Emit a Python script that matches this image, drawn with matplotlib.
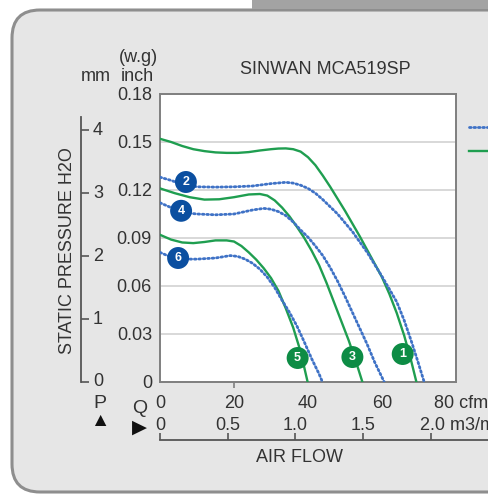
import matplotlib
matplotlib.use("Agg")
import matplotlib.pyplot as plt
from matplotlib.patches import FancyBboxPatch, Rectangle
from matplotlib.transforms import blended_transform_factory, offset_copy

plt.rcParams['font.family'] = ['Liberation Sans', 'DejaVu Sans']

# ---------------- data ----------------
TITLE = "SINWAN MCA519SP"
CFM_TICKS = [0, 20, 40, 60, 80]
CFM_LABELS = ["0", "20", "40", "60", "80 cfm"]
INCH_TICKS = [0, 0.03, 0.06, 0.09, 0.12, 0.15, 0.18]
INCH_LABELS = ["0", "0.03", "0.06", "0.09", "0.12", "0.15", "0.18"]
MM_TICKS = [0, 1, 2, 3, 4]
M3_TICKS = [0, 0.5, 1.0, 1.5, 2.0]
M3_LABELS = ["0", "0.5", "1.0", "1.5", "2.0 m3/min"]
INCH_PER_MM = 0.03937
CFM_PER_M3 = 36.6   # as drawn on the chart

c1_x = [0, 3, 6, 9, 12, 15, 18, 21, 24, 27, 30, 32, 34, 36, 38, 40, 42, 44, 46, 48,
        50, 52, 54, 56, 58, 60, 62, 64, 66, 67.8, 69.3]
c1_y = [0.152, 0.150, 0.1475, 0.1455, 0.1443, 0.1435, 0.1432, 0.1432, 0.1437, 0.1447, 0.1455,
        0.1459, 0.146, 0.1455, 0.144, 0.1405, 0.1355, 0.129, 0.122, 0.1145,
        0.107, 0.099, 0.091, 0.0825, 0.074, 0.0655, 0.055, 0.043, 0.029, 0.014, 0.0]
c2_x = [0, 3, 6, 10, 15, 20, 25, 30, 34, 36, 38, 40, 42, 44, 46, 48,
        50, 52, 54, 56, 58, 60, 62, 64, 66, 68, 69.8, 71.4]
c2_y = [0.128, 0.126, 0.1235, 0.122, 0.1218, 0.122, 0.1225, 0.124, 0.1248, 0.1243, 0.123,
        0.121, 0.118, 0.114, 0.1095, 0.105,
        0.0995, 0.094, 0.0875, 0.081, 0.0735, 0.066, 0.058, 0.050, 0.0385, 0.025, 0.012, 0.0]
c3_x = [0, 4, 8, 12, 16, 20, 24, 27, 29, 31, 33, 35, 37, 39, 41, 43, 45, 47, 49, 51, 53, 54.7]
c3_y = [0.121, 0.118, 0.1155, 0.114, 0.1142, 0.1155, 0.1172, 0.1175, 0.1165, 0.1135, 0.109,
        0.1035, 0.097, 0.090, 0.082, 0.073, 0.062, 0.050, 0.038, 0.026, 0.0125, 0.0]
c4_x = [0, 3, 6, 10, 15, 20, 25, 28, 30, 32, 34, 36, 38, 40, 42, 44, 46, 48, 50, 52,
        54, 56, 58, 60.6]
c4_y = [0.112, 0.109, 0.106, 0.105, 0.1045, 0.105, 0.1075, 0.1085, 0.108, 0.1065, 0.104,
        0.100, 0.095, 0.0905, 0.085, 0.079, 0.0715, 0.063, 0.0535, 0.0435,
        0.0335, 0.0235, 0.0125, 0.0]
c5_x = [0, 3, 6, 9, 12, 15, 18, 20, 22, 24, 26, 28, 30, 32, 34, 36, 38, 39.9]
c5_y = [0.092, 0.089, 0.0872, 0.0868, 0.0875, 0.0885, 0.0885, 0.0878, 0.085, 0.081, 0.0765,
        0.0712, 0.065, 0.057, 0.046, 0.034, 0.019, 0.0]
c6_x = [0, 3, 6, 10, 15, 19, 21, 23, 25, 27, 29, 31, 33, 35, 37, 39, 41, 43, 43.9]
c6_y = [0.081, 0.078, 0.0768, 0.0768, 0.0775, 0.079, 0.0785, 0.0768, 0.0742, 0.0705, 0.0655,
        0.059, 0.051, 0.0435, 0.035, 0.025, 0.0145, 0.005, 0.0]

CURVES = [(1, c1_x, c1_y), (2, c2_x, c2_y), (3, c3_x, c3_y),
          (4, c4_x, c4_y), (5, c5_x, c5_y), (6, c6_x, c6_y)]
LABEL_POS = {1: (65.6, 0.0175), 2: (7.0, 0.125), 3: (52.0, 0.0156),
             4: (5.7, 0.107), 5: (37.2, 0.015), 6: (4.9, 0.0775)}

# ---------------- styles ----------------
GREEN = '#1f9e50'
GREEN_DOT = '#0d8c45'
BLUE = '#3f72c6'
BLUE_DOT = '#0b4fa0'
TXT = '#333333'
FS = 13

W, H = 489, 495
fig = plt.figure(figsize=(W / 100, H / 100), dpi=100, facecolor='white')

# background canvas in pixel units
bg = fig.add_axes([0, 0, 1, 1])
bg.set_xlim(0, W)
bg.set_ylim(H, 0)
bg.axis('off')
bg.add_patch(FancyBboxPatch((12, 10), 700, 482,
                            boxstyle="round,pad=0,rounding_size=28",
                            fc='#e6e6e6', ec='#8e8e8e', lw=2.2))
bg.add_patch(Rectangle((252, -2), 260, 11, fc='#a3a3a3', ec='none'))

# main plot
L, R, T, B = 160, 456, 94, 382
ax = fig.add_axes([L / W, 1 - B / H, (R - L) / W, (B - T) / H])
ax.set_facecolor('white')
ax.set_xlim(0, 80)
ax.set_ylim(0, 0.18)
for s in ax.spines.values():
    s.set_color('#7f7f7f')
    s.set_linewidth(1.4)
ax.set_yticks(INCH_TICKS)
ax.set_yticklabels(INCH_LABELS, fontsize=FS, color=TXT)
ax.tick_params(axis='y', length=0, pad=5.8)
ax.grid(axis='y', color='#d2d2d2', lw=1.2)
ax.set_axisbelow(True)
ax.set_xticks([20])
ax.set_xticklabels([])
ax.tick_params(axis='x', length=4, color='#7f7f7f', width=1.2)

for num, xs, ys in CURVES:
    if num % 2 == 1:
        ax.plot(xs, ys, color=GREEN, lw=1.7, solid_joinstyle='round', zorder=3)
    else:
        ax.plot(xs, ys, color=BLUE, lw=2.0, linestyle=(0, (0.6, 1.0)),
                dash_capstyle='round', zorder=3)
for num, (lx, ly) in LABEL_POS.items():
    col = GREEN_DOT if num % 2 == 1 else BLUE_DOT
    ax.scatter([lx], [ly], s=250, color=col, edgecolors='none', zorder=5, clip_on=False)
    ax.text(lx, ly, str(num), color='white', fontsize=9, fontweight='bold',
            ha='center', va='center', zorder=6)

# x labels (two rows)
tr_x = blended_transform_factory(ax.transData, bg.transData)
for v, lab in zip(CFM_TICKS, CFM_LABELS):
    if lab.endswith('cfm'):
        ax_t = offset_copy(tr_x, fig=fig, x=-22, y=0, units='dots')
        bg.text(v, 408, lab, transform=ax_t, ha='left', va='baseline', fontsize=FS, color=TXT)
    else:
        bg.text(v, 408, lab, transform=tr_x, ha='center', va='baseline', fontsize=FS, color=TXT)
for v, lab in zip(M3_TICKS, M3_LABELS):
    xv = v * CFM_PER_M3
    if 'm3' in lab:
        ax_t = offset_copy(tr_x, fig=fig, x=-11, y=0, units='dots')
        bg.text(xv, 430, lab, transform=ax_t, ha='left', va='baseline', fontsize=FS, color=TXT)
    else:
        bg.text(xv, 430, lab, transform=tr_x, ha='center', va='baseline', fontsize=FS, color=TXT)

# Q axis line under the labels
axq = fig.add_axes([L / W, 1 - 440 / H, (W - L) / W, 1 / H])
axq.set_xlim(0, 80 * (W - L) / (R - L))
axq.patch.set_visible(False)
for k in ['top', 'left', 'right']:
    axq.spines[k].set_visible(False)
axq.spines['bottom'].set_color('#555555')
axq.spines['bottom'].set_linewidth(1.3)
axq.set_yticks([])
axq.set_xticks([m * CFM_PER_M3 for m in M3_TICKS])
axq.set_xticklabels([])
axq.tick_params(axis='x', direction='in', length=5, color='#555555', width=1.2)

# mm axis
axmm = fig.add_axes([81 / W, 1 - B / H, 1 / W, (B - T) / H])
axmm.set_ylim(0, 0.18 / INCH_PER_MM)
axmm.patch.set_visible(False)
for k in ['top', 'bottom', 'right']:
    axmm.spines[k].set_visible(False)
axmm.spines['left'].set_color('#555555')
axmm.spines['left'].set_linewidth(1.3)
axmm.spines['left'].set_bounds(0, 4.2)
axmm.set_xticks([])
axmm.set_yticks(MM_TICKS)
axmm.set_yticklabels([])
axmm.tick_params(axis='y', direction='in', length=6, color='#555555', width=1.2)
tr_mm = blended_transform_factory(bg.transData, axmm.transData)
for v in MM_TICKS:
    bg.text(98, v, str(v), transform=tr_mm, ha='center', va='center', fontsize=FS, color=TXT)

# other texts
bg.text(325, 74, TITLE, ha='center', va='baseline', fontsize=FS, color=TXT)
bg.text(138, 62, "(w.g)", ha='center', va='baseline', fontsize=FS, color=TXT)
bg.text(96, 81, "mm", ha='center', va='baseline', fontsize=FS, color=TXT)
bg.text(137, 81, "inch", ha='center', va='baseline', fontsize=FS, color=TXT)
bg.text(67, 251, "STATIC PRESSURE H2O", rotation=90, ha='center', va='center',
        fontsize=FS, color=TXT)
bg.text(300, 462, "AIR FLOW", ha='center', va='baseline', fontsize=FS, color=TXT)
bg.text(100, 408, "P", ha='center', va='baseline', fontsize=FS + 1, color=TXT)
bg.text(100, 421, "▲", ha='center', va='center', fontsize=14, color='#111111')
bg.text(140, 413, "Q", ha='center', va='baseline', fontsize=FS + 1, color=TXT)
bg.text(139, 428, "▶", ha='center', va='center', fontsize=14, color='#111111')

# legend samples at right edge
bg.plot([469, 495], [127, 127], color=BLUE, lw=2.0, linestyle=(0, (0.6, 1.0)),
        dash_capstyle='round')
bg.plot([469, 495], [151, 151], color=GREEN, lw=1.7)

fig.savefig("out.png", dpi=100, facecolor='white')
